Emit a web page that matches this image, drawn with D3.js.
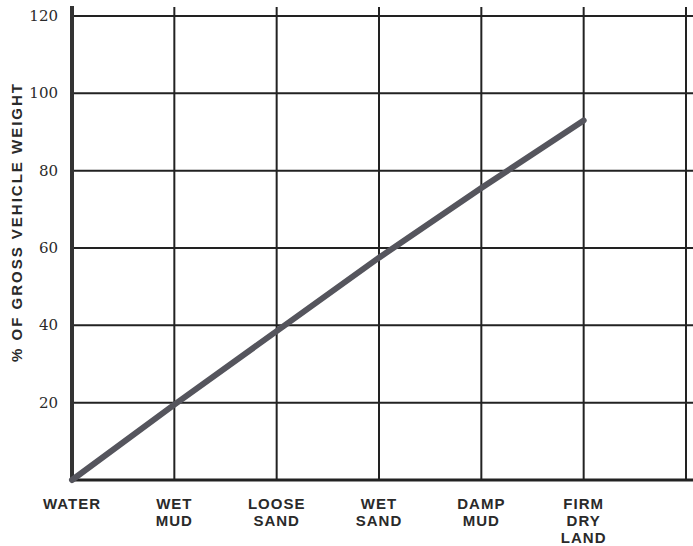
<!DOCTYPE html>
<html>
<head>
<meta charset="utf-8">
<script src="https://cdn.jsdelivr.net/npm/d3@7"></script>
<style>
  body { margin: 0; background: #fff; }
  text { fill: #2a2a2a; }
</style>
</head>
<body>
<script>
var svgWidth = 693;
var svgHeight = 546;

// surface categories along the bottom (last slot is left blank)
var categories = ["WATER", "WET MUD", "LOOSE SAND", "WET SAND", "DAMP MUD", "FIRM DRY LAND", ""];
var categoryLines = [["WATER"], ["WET", "MUD"], ["LOOSE", "SAND"], ["WET", "SAND"], ["DAMP", "MUD"], ["FIRM", "DRY", "LAND"], []];
// % of gross vehicle weight for each surface
var pctWeight = [0, 19.5, 38.5, 57.5, 75.5, 93];
var yTicks = [20, 40, 60, 80, 100, 120];

var svg = d3.select("body").append("svg")
  .attr("width", svgWidth)
  .attr("height", svgHeight);

var x = d3.scalePoint()
  .domain(d3.range(categories.length))
  .range([72, 686]);

var y = d3.scaleLinear()
  .domain([0, 120])
  .range([480, 16]);

// horizontal grid
svg.append("g")
  .selectAll("line")
  .data(yTicks)
  .enter()
  .append("line")
  .attr("x1", x(0))
  .attr("x2", svgWidth)
  .attr("y1", d => y(d))
  .attr("y2", d => y(d))
  .attr("stroke", "#222")
  .attr("stroke-width", 2);

// vertical grid
svg.append("g")
  .selectAll("line")
  .data(d3.range(1, categories.length))
  .enter()
  .append("line")
  .attr("x1", d => x(d))
  .attr("x2", d => x(d))
  .attr("y1", 7)
  .attr("y2", y(0))
  .attr("stroke", "#222")
  .attr("stroke-width", 2);

// axes lines
svg.append("line")
  .attr("x1", x(0)).attr("x2", x(0))
  .attr("y1", 6).attr("y2", y(0) + 1)
  .attr("stroke", "#333").attr("stroke-width", 4);

svg.append("line")
  .attr("x1", x(0) - 2).attr("x2", svgWidth)
  .attr("y1", y(0)).attr("y2", y(0))
  .attr("stroke", "#222").attr("stroke-width", 3);

// y tick labels
svg.append("g")
  .selectAll("text")
  .data(yTicks)
  .enter()
  .append("text")
  .attr("x", 58)
  .attr("y", d => y(d) + 5)
  .attr("text-anchor", "end")
  .attr("font-family", "DejaVu Serif, serif")
  .attr("font-size", "15px")
  .text(d => d);

// y axis title
svg.append("text")
  .attr("transform", "translate(22, 222) rotate(-90)")
  .attr("text-anchor", "middle")
  .attr("font-family", "Liberation Sans, Arial, sans-serif")
  .attr("font-weight", "bold")
  .attr("font-size", "15px")
  .attr("letter-spacing", "2px")
  .text("% OF GROSS VEHICLE WEIGHT");

// x category labels
var labels = svg.append("g")
  .selectAll("text")
  .data(categoryLines)
  .enter()
  .append("text")
  .attr("text-anchor", "middle")
  .attr("font-family", "Liberation Sans, Arial, sans-serif")
  .attr("font-weight", "bold")
  .attr("font-size", "15px")
  .attr("letter-spacing", "1px");

labels.selectAll("tspan")
  .data((d, i) => d.map(t => ({ t: t, i: i })))
  .enter()
  .append("tspan")
  .attr("x", d => x(d.i))
  .attr("y", (d, j) => 509 + j * 17)
  .text(d => d.t);

// the line
var line = d3.line()
  .x((d, i) => x(i))
  .y(d => y(d));

svg.append("path")
  .datum(pctWeight)
  .attr("d", line)
  .attr("fill", "none")
  .attr("stroke", "#55555d")
  .attr("stroke-width", 6)
  .attr("stroke-linecap", "round");
</script>
</body>
</html>
